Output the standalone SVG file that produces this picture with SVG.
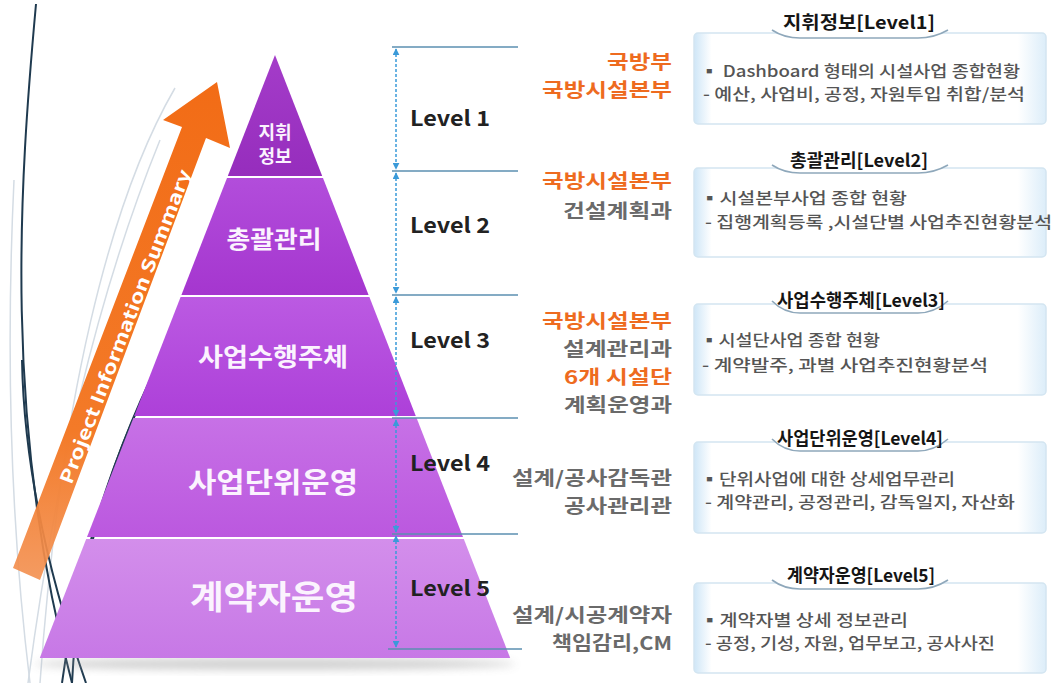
<svg xmlns="http://www.w3.org/2000/svg" width="1057" height="683" viewBox="0 0 1057 683">
<defs>
<style>
.kr{font-family:"Noto Sans CJK KR","Noto Sans",sans-serif}
.pt{font-family:"Noto Sans CJK KR",sans-serif;font-weight:700;fill:#fbf3fe;text-anchor:middle}
.lv{font-family:"Noto Sans CJK KR",sans-serif;font-weight:700;fill:#222;font-size:21px}
.org{font-family:"Noto Sans CJK KR",sans-serif;font-weight:700;font-size:19px;text-anchor:end}
.or{fill:#ee6b1f}
.gy{fill:#6a6a6a}
.bt{font-family:"Noto Sans CJK KR",sans-serif;font-weight:700;font-size:18px;fill:#151515;text-anchor:middle}
.bx{font-family:"Noto Sans CJK KR",sans-serif;font-weight:500;font-size:16px;fill:#555}
.box{fill:url(#boxg);stroke:#d3e5f1;stroke-width:1.5}
.tab{fill:#fff}
.tabs{fill:none;stroke:#8fa8bb;stroke-width:1.6}
.hl{stroke:#5b8fb1;stroke-width:1.5}
.vd{stroke:#3a9ad9;stroke-width:1.5;stroke-dasharray:3 2;fill:none}
.dk{fill:none;stroke:#1f3a4f;stroke-width:2}
.lt{fill:none;stroke:#d4dce4;stroke-width:1.5}
</style>
<linearGradient id="boxg" x1="0" y1="0" x2="1" y2="0">
<stop offset="0" stop-color="#cfe6f7"/>
<stop offset="0.05" stop-color="#ffffff"/>
<stop offset="0.92" stop-color="#ffffff"/>
<stop offset="1" stop-color="#dcedf9"/>
</linearGradient>
<linearGradient id="b1" x1="0" y1="0" x2="0" y2="1"><stop offset="0" stop-color="#a43cc9"/><stop offset="1" stop-color="#962dbd"/></linearGradient>
<linearGradient id="b2" x1="0" y1="0" x2="0" y2="1"><stop offset="0" stop-color="#b24ddb"/><stop offset="1" stop-color="#a536cf"/></linearGradient>
<linearGradient id="b3" x1="0" y1="0" x2="0" y2="1"><stop offset="0" stop-color="#bb5ae2"/><stop offset="1" stop-color="#ad40d9"/></linearGradient>
<linearGradient id="b4" x1="0" y1="0" x2="0" y2="1"><stop offset="0" stop-color="#c771e6"/><stop offset="1" stop-color="#bb58df"/></linearGradient>
<linearGradient id="b5" x1="0" y1="0" x2="0" y2="1"><stop offset="0" stop-color="#d38eeb"/><stop offset="1" stop-color="#c778e6"/></linearGradient>
<linearGradient id="arr" x1="0" y1="0" x2="0" y2="1"><stop offset="0" stop-color="#f26c16"/><stop offset="0.7" stop-color="#f37a28"/><stop offset="1" stop-color="#f39050" stop-opacity="0.9"/></linearGradient>
<filter id="sh" x="-20%" y="-50%" width="140%" height="200%"><feGaussianBlur stdDeviation="4"/></filter>
<marker id="ah" viewBox="0 0 10 10" refX="9" refY="5" markerWidth="7" markerHeight="7" orient="auto-start-reverse" markerUnits="userSpaceOnUse"><path d="M0,0 L10,5 L0,10 z" fill="#3a9ad9"/></marker>
</defs>
<rect width="1057" height="683" fill="#ffffff"/>

<g id="decor">
<path class="lt" d="M175,88 C110,200 60,400 40,683"/>
<path class="lt" d="M160,140 C95,300 55,480 28,683"/>
<path class="lt" d="M14,180 C6,350 10,520 30,683"/>
<path class="dk" d="M36,4 C20,180 2,420 72,683"/>
<path class="dk" d="M22,360 C24,470 50,580 86,683"/>
</g>

<g id="arrow">
<path d="M13,568 L182,127 L163,120 L217,82 L230,148 L206,138 L40,580 Z" fill="url(#arr)"/>
<text class="kr" transform="translate(124,326) rotate(-69)" text-anchor="middle" dominant-baseline="central" font-size="18" font-weight="700" fill="#fff" textLength="335" lengthAdjust="spacingAndGlyphs">Project Information Summary</text>
</g>

<g id="decor2">
<path class="dk" d="M182,322 C120,430 82,540 62,683"/>
<path class="dk" d="M172,336 C112,450 78,560 72,683"/>
</g>

<g id="pyramid">
<ellipse cx="275" cy="664" rx="240" ry="6" fill="#999" opacity="0.45" filter="url(#sh)"/>
<path d="M275,55 L322.2,176 L227.8,176 Z" fill="url(#b1)"/>
<path d="M227,178 L323,178 L368.6,295 L181.4,295 Z" fill="url(#b2)"/>
<path d="M180.6,297 L369.4,297 L415.8,416 L134.2,416 Z" fill="url(#b3)"/>
<path d="M133.4,418 L416.6,418 L463,537 L87,537 Z" fill="url(#b4)"/>
<path d="M86.2,539 L463.8,539 L510.2,658 L39.8,658 Z" fill="url(#b5)"/>
<text class="pt" x="275" y="139" font-size="18">지휘</text>
<text class="pt" x="275" y="163" font-size="18">정보</text>
<text class="pt" x="274" y="248" font-size="24" textLength="95" lengthAdjust="spacingAndGlyphs">총괄관리</text>
<text class="pt" x="273" y="366" font-size="25" textLength="150" lengthAdjust="spacingAndGlyphs">사업수행주체</text>
<text class="pt" x="273" y="493" font-size="28" textLength="170" lengthAdjust="spacingAndGlyphs">사업단위운영</text>
<text class="pt" x="274" y="609" font-size="33" textLength="168" lengthAdjust="spacingAndGlyphs">계약자운영</text>
</g>

<g id="connectors">
<line class="hl" x1="392" y1="47" x2="518" y2="47"/>
<line class="hl" x1="392" y1="171" x2="518" y2="171"/>
<line class="hl" x1="392" y1="295" x2="518" y2="295"/>
<line class="hl" x1="392" y1="418" x2="518" y2="418"/>
<line class="hl" x1="392" y1="534" x2="518" y2="534"/>
<line class="hl" x1="388" y1="649" x2="522" y2="649"/>
<line class="vd" x1="396" y1="49" x2="396" y2="169" marker-start="url(#ah)" marker-end="url(#ah)"/>
<line class="vd" x1="396" y1="173" x2="396" y2="293" marker-start="url(#ah)" marker-end="url(#ah)"/>
<line class="vd" x1="396" y1="297" x2="396" y2="416" marker-start="url(#ah)" marker-end="url(#ah)"/>
<line class="vd" x1="396" y1="420" x2="396" y2="532" marker-start="url(#ah)" marker-end="url(#ah)"/>
<line class="vd" x1="396" y1="536" x2="396" y2="647" marker-start="url(#ah)" marker-end="url(#ah)"/>
</g>

<g id="levels">
<text class="lv" x="410" y="126" textLength="80" lengthAdjust="spacingAndGlyphs">Level 1</text>
<text class="lv" x="410" y="233" textLength="80" lengthAdjust="spacingAndGlyphs">Level 2</text>
<text class="lv" x="410" y="348" textLength="80" lengthAdjust="spacingAndGlyphs">Level 3</text>
<text class="lv" x="410" y="471" textLength="80" lengthAdjust="spacingAndGlyphs" fill="#2a1430">Level 4</text>
<text class="lv" x="410" y="596" textLength="80" lengthAdjust="spacingAndGlyphs" fill="#2a1430">Level 5</text>
</g>

<g id="orgs">
<text class="org or" x="672" y="69" textLength="65" lengthAdjust="spacingAndGlyphs">국방부</text>
<text class="org or" x="672" y="97" textLength="130" lengthAdjust="spacingAndGlyphs">국방시설본부</text>
<text class="org or" x="672" y="188" textLength="130" lengthAdjust="spacingAndGlyphs">국방시설본부</text>
<text class="org gy" x="672" y="218" textLength="109" lengthAdjust="spacingAndGlyphs">건설계획과</text>
<text class="org or" x="672" y="328" textLength="130" lengthAdjust="spacingAndGlyphs">국방시설본부</text>
<text class="org gy" x="672" y="356" textLength="109" lengthAdjust="spacingAndGlyphs">설계관리과</text>
<text class="org or" x="672" y="384" textLength="108" lengthAdjust="spacingAndGlyphs">6개 시설단</text>
<text class="org gy" x="672" y="412" textLength="108" lengthAdjust="spacingAndGlyphs">계획운영과</text>
<text class="org gy" x="672" y="485" textLength="160" lengthAdjust="spacingAndGlyphs">설계/공사감독관</text>
<text class="org gy" x="672" y="513" textLength="108" lengthAdjust="spacingAndGlyphs">공사관리관</text>
<text class="org gy" x="672" y="622" textLength="160" lengthAdjust="spacingAndGlyphs">설계/시공계약자</text>
<text class="org gy" x="672" y="650" textLength="120" lengthAdjust="spacingAndGlyphs">책임감리,CM</text>
</g>

<g id="box1">
<rect class="box" x="694" y="33" width="352" height="91" rx="4"/>
<path class="tab" d="M772,31 Q784,37 800,37 H918 Q934,37 948,31 V6 H772 Z"/>
<path class="tabs" d="M772,30 Q784,38 800,38 H918 Q934,38 948,30"/>
<text class="bt" x="859" y="29" textLength="152" lengthAdjust="spacingAndGlyphs">지휘정보[Level1]</text>
<text class="bx" x="700" y="77" textLength="320" lengthAdjust="spacingAndGlyphs">▪ Dashboard 형태의 시설사업 종합현황</text>
<text class="bx" x="703" y="100" textLength="322" lengthAdjust="spacingAndGlyphs">- 예산, 사업비, 공정, 자원투입 취합/분석</text>
</g>

<g id="box2">
<rect class="box" x="694" y="168" width="352" height="89" rx="4"/>
<path class="tab" d="M772,166 Q784,172 800,172 H918 Q934,172 948,166 V144 H772 Z"/>
<path class="tabs" d="M772,165 Q784,173 800,173 H918 Q934,173 948,165"/>
<text class="bt" x="859" y="167" textLength="138" lengthAdjust="spacingAndGlyphs">총괄관리[Level2]</text>
<text class="bx" x="700" y="204" textLength="207" lengthAdjust="spacingAndGlyphs">▪시설본부사업 종합 현황</text>
<text class="bx" x="705" y="228" textLength="347" lengthAdjust="spacingAndGlyphs">- 집행계획등록 ,시설단별 사업추진현황분석</text>
</g>

<g id="box3">
<rect class="box" x="694" y="304" width="352" height="91" rx="4"/>
<path class="tab" d="M772,302 Q784,312 800,312 H918 Q934,312 948,302 V284 H772 Z"/>
<path class="tabs" d="M772,301 Q784,313 800,313 H918 Q934,313 948,301"/>
<text class="bt" x="861" y="307" textLength="168" lengthAdjust="spacingAndGlyphs">사업수행주체[Level3]</text>
<text class="bx" x="700" y="346" textLength="180" lengthAdjust="spacingAndGlyphs">▪시설단사업 종합 현황</text>
<text class="bx" x="702" y="371" textLength="286" lengthAdjust="spacingAndGlyphs">-  계약발주, 과별 사업추진현황분석</text>
</g>

<g id="box4">
<rect class="box" x="694" y="442" width="352" height="91" rx="4"/>
<path class="tab" d="M772,440 Q784,450 800,450 H918 Q934,450 948,440 V422 H772 Z"/>
<path class="tabs" d="M772,439 Q784,451 800,451 H918 Q934,451 948,439"/>
<text class="bt" x="860" y="445" textLength="166" lengthAdjust="spacingAndGlyphs">사업단위운영[Level4]</text>
<text class="bx" x="700" y="485" textLength="255" lengthAdjust="spacingAndGlyphs">▪단위사업에 대한 상세업무관리</text>
<text class="bx" x="705" y="508" textLength="310" lengthAdjust="spacingAndGlyphs">- 계약관리, 공정관리, 감독일지, 자산화</text>
</g>

<g id="box5">
<rect class="box" x="694" y="583" width="352" height="90" rx="4"/>
<path class="tab" d="M772,581 Q784,588 800,588 H918 Q934,588 948,581 V560 H772 Z"/>
<path class="tabs" d="M772,580 Q784,589 800,589 H918 Q934,589 948,580"/>
<text class="bt" x="861" y="582" textLength="148" lengthAdjust="spacingAndGlyphs">계약자운영[Level5]</text>
<text class="bx" x="700" y="626" textLength="208" lengthAdjust="spacingAndGlyphs">▪계약자별 상세 정보관리</text>
<text class="bx" x="705" y="649" textLength="290" lengthAdjust="spacingAndGlyphs">- 공정, 기성, 자원, 업무보고, 공사사진</text>
</g>
</svg>
